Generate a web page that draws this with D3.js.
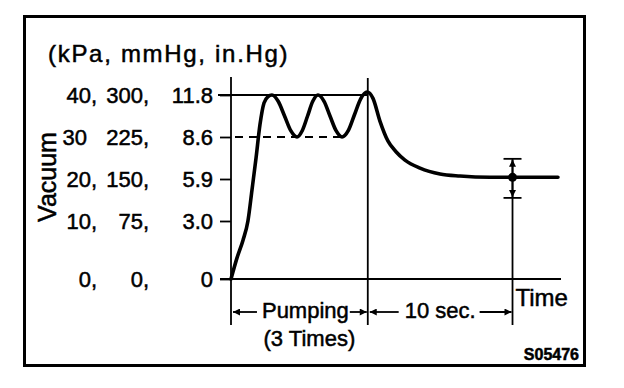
<!DOCTYPE html>
<html>
<head>
<meta charset="utf-8">
<script src="https://cdn.jsdelivr.net/npm/d3@7"></script>
<style>
  body { margin: 0; background: #fff; }
  text { font-family: "Liberation Sans", Arial, sans-serif; fill: #000; stroke: #000; stroke-width: 0.5px; }
</style>
</head>
<body>
<div id="chart"></div>
<script>

// y axis levels and their three unit labels
const vacuumKpa = [0, 10, 20, 30, 40]
const kpaLabels = ['0,', '10,', '20,', '30', '40,']
const mmHgLabels = ['0,', '75,', '150,', '225,', '300,']
const inHgLabels = ['0', '3.0', '5.9', '8.6', '11.8']

// vacuum trace (time in s, vacuum in kPa)
const timeSec = [0, 0.41, 0.83, 1.17, 1.45, 1.73, 2.0, 2.28, 2.56, 2.83,
    3.26, 3.70, 4.13, 4.56, 4.92, 5.29, 5.65, 6.01,
    6.43, 6.84, 7.26, 7.67, 8.10, 8.53, 8.96, 9.40,
    9.81, 10.29, 10.85, 11.4, 12.02, 13.06, 14.44, 15.82, 17.89, 19.45, 22.59]
const vacuum = [0, 3.6, 6.7, 10, 17.4, 25, 32.9, 38.1, 39.6, 40,
    38.5, 35, 31.5, 30, 31.5, 35, 38.5, 40,
    38.5, 35, 31.5, 30, 31.5, 35.3, 39.1, 40.7,
    39.2, 33.8, 29, 26.5, 24.5, 22.6, 21.2, 20.7, 20.4, 20.4, 20.4]

const pumpEnd = 9.45
const holdEnd = 19.45
const holdBand = [15.5, 24.8]
const refHigh = 40
const refLow = 30

const width = 624
const height = 388

const svg = d3.select('#chart')
    .append('svg')
    .attr('width', width)
    .attr('height', height)

const defs = svg.append('defs')
defs.append('marker')
    .attr('id', 'head')
    .attr('viewBox', '0 0 10 10')
    .attr('refX', 10)
    .attr('refY', 5)
    .attr('markerWidth', 8)
    .attr('markerHeight', 7)
    .attr('markerUnits', 'userSpaceOnUse')
    .attr('orient', 'auto-start-reverse')
    .append('path')
    .attr('d', 'M0,0 L10,5 L0,10 z')

const x = d3.scaleLinear()
    .domain([0, 22.8])
    .range([231, 561])

const y = d3.scaleLinear()
    .domain(vacuumKpa)
    .range([279, 221, 179, 137, 95])

// frame
svg.append('rect')
    .attr('x', 24.5)
    .attr('y', 16.5)
    .attr('width', 560)
    .attr('height', 349)
    .attr('fill', 'none')
    .attr('stroke', '#000')
    .attr('stroke-width', 3)

svg.append('text')
    .attr('x', 48)
    .attr('y', 62)
    .style('font-size', '24px')
    .style('letter-spacing', '1.7px')
    .text('(kPa, mmHg, in.Hg)')

svg.append('text')
    .attr('transform', 'translate(56,177) rotate(-90)')
    .attr('text-anchor', 'middle')
    .style('font-size', '25px')
    .text('Vacuum')

// ticks
const yAxis = svg.append('g')
    .attr('transform', `translate(${x(0)},0)`)
    .call(d3.axisLeft(y).tickValues(vacuumKpa).tickSize(11).tickFormat(''))
yAxis.select('.domain').remove()
yAxis.selectAll('line').attr('stroke-width', 1.8)

// labels in three columns
const labels = svg.append('g').style('font-size', '22px')
labels.selectAll('.kpa')
    .data(vacuumKpa)
    .join('text')
    .attr('class', 'kpa')
    .attr('text-anchor', 'end')
    .attr('x', (d, i) => kpaLabels[i].endsWith(',') ? 97 : 87)
    .attr('y', d => y(d) + 8)
    .text((d, i) => kpaLabels[i])
labels.selectAll('.mmhg')
    .data(vacuumKpa)
    .join('text')
    .attr('class', 'mmhg')
    .attr('text-anchor', 'end')
    .attr('x', 149)
    .attr('y', d => y(d) + 8)
    .text((d, i) => mmHgLabels[i])
labels.selectAll('.inhg')
    .data(vacuumKpa)
    .join('text')
    .attr('class', 'inhg')
    .attr('text-anchor', 'end')
    .attr('x', 213)
    .attr('y', d => y(d) + 8)
    .text((d, i) => inHgLabels[i])

// axes and dividers
const axes = svg.append('g').attr('stroke', '#000').attr('stroke-width', 1.8)
axes.append('line')
    .attr('x1', x(0)).attr('x2', x(0))
    .attr('y1', 77).attr('y2', 325)
axes.append('line')
    .attr('x1', 220).attr('x2', x(22.8))
    .attr('y1', y(0)).attr('y2', y(0))
axes.append('line')
    .attr('x1', x(pumpEnd)).attr('x2', x(pumpEnd))
    .attr('y1', 78).attr('y2', 325)
axes.append('line')
    .attr('x1', x(holdEnd)).attr('x2', x(holdEnd))
    .attr('y1', y(holdBand[1])).attr('y2', 325)

// reference levels
axes.append('line')
    .attr('x1', 218).attr('x2', x(pumpEnd))
    .attr('y1', y(refHigh)).attr('y2', y(refHigh))
const lastTrough = d3.max(timeSec.filter((t, i) => vacuum[i] === refLow && t < pumpEnd))
axes.append('line')
    .attr('x1', x(0)).attr('x2', x(lastTrough) + 3)
    .attr('y1', y(refLow)).attr('y2', y(refLow))
    .attr('stroke-dasharray', '8,6')
    .attr('stroke-dashoffset', -4)

// trace
const line = d3.line()
    .x((d, i) => x(timeSec[i]))
    .y(d => y(d))
    .curve(d3.curveMonotoneX)

svg.append('path')
    .datum(vacuum)
    .attr('d', line)
    .attr('fill', 'none')
    .attr('stroke', '#000')
    .attr('stroke-width', 3.6)
    .attr('stroke-linecap', 'round')

// hold tolerance marker
const holdV = vacuum[timeSec.indexOf(holdEnd)]
const band = svg.append('g').attr('stroke', '#000').attr('stroke-width', 1.8)
holdBand.forEach(v => {
    band.append('line')
        .attr('x1', x(holdEnd)).attr('x2', x(holdEnd))
        .attr('y1', y(holdV)).attr('y2', y(v) + (v > holdV ? 1 : -1))
        .attr('marker-end', 'url(#head)')
    band.append('line')
        .attr('x1', x(holdEnd) - 9).attr('x2', x(holdEnd) + 9)
        .attr('y1', y(v)).attr('y2', y(v))
})
svg.append('circle')
    .attr('cx', x(holdEnd))
    .attr('cy', y(holdV))
    .attr('r', 4.5)

// phase annotations
const ann = svg.append('g')
const arrowY = 312
const pump = ann.append('text')
    .attr('x', (x(0) + x(pumpEnd)) / 2 + 6)
    .attr('y', 318)
    .attr('text-anchor', 'middle')
    .style('font-size', '22px')
    .text('Pumping')
ann.append('text')
    .attr('x', (x(0) + x(pumpEnd)) / 2 + 10)
    .attr('y', 346)
    .attr('text-anchor', 'middle')
    .style('font-size', '22px')
    .text('(3 Times)')
const secs = ann.append('text')
    .attr('x', (x(pumpEnd) + x(holdEnd)) / 2)
    .attr('y', 318)
    .attr('text-anchor', 'middle')
    .style('font-size', '22px')
    .text('10 sec.')

const pumpBox = pump.node().getBBox()
const secBox = secs.node().getBBox()
const arrows = [
    [pumpBox.x - 5, x(0) + 2],
    [pumpBox.x + pumpBox.width + 1, x(pumpEnd) - 1],
    [secBox.x - 6, x(pumpEnd) + 2],
    [secBox.x + secBox.width + 4, x(holdEnd) - 1]
]
ann.selectAll('line')
    .data(arrows)
    .join('line')
    .attr('x1', d => d[0])
    .attr('x2', d => d[1])
    .attr('y1', arrowY)
    .attr('y2', arrowY)
    .attr('stroke', '#000')
    .attr('stroke-width', 1.8)
    .attr('marker-end', 'url(#head)')

ann.append('text')
    .attr('x', x(holdEnd) + 3)
    .attr('y', 306)
    .style('font-size', '24px')
    .text('Time')

ann.append('text')
    .attr('x', 579)
    .attr('y', 360)
    .attr('text-anchor', 'end')
    .style('font-size', '16px')
    .style('font-weight', 'bold')
    .text('S05476')

</script>
</body>
</html>
